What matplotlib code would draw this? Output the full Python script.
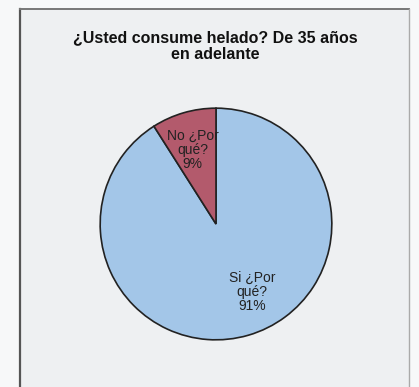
import matplotlib
matplotlib.use("Agg")
import matplotlib.pyplot as plt
from matplotlib.lines import Line2D
import numpy as np

categories = ["Si ¿Por\nqué?", "No ¿Por\nqué?"]
values = [91, 9]
colors = ["#a3c6e8", "#b35a6c"]
title = "¿Usted consume helado? De 35 años\nen adelante"

W, H = 419, 387
fig = plt.figure(figsize=(W / 100, H / 100), dpi=100)
fig.patch.set_facecolor("#f7f8f9")

# chart frame area
frame = plt.Rectangle((20 / W, 0), (409 - 20) / W, 1 - 10 / H, transform=fig.transFigure,
                      facecolor="#eef0f2", edgecolor="none", zorder=-5)
fig.patches.append(frame)
fig.lines.append(Line2D([20 / W, 20 / W], [0, 1 - 9 / H], transform=fig.transFigure,
                        color="#555555", lw=1.6, zorder=-4))
fig.lines.append(Line2D([20 / W, 409 / W], [1 - 9 / H, 1 - 9 / H], transform=fig.transFigure,
                        color="#777777", lw=1.4, zorder=-4))
fig.lines.append(Line2D([409 / W, 409 / W], [0, 1 - 9 / H], transform=fig.transFigure,
                        color="#aaaaaa", lw=1.0, zorder=-4))

fig.text(215 / W, 1 - 46 / H, title, ha="center", va="center", fontsize=11.5,
         fontweight="bold", family="Liberation Sans", linespacing=1.2, color="#111111")

cx, cy, r = 216, 224, 117
ax = fig.add_axes([(cx - r) / W, (H - cy - r) / H, 2 * r / W, 2 * r / H], zorder=2)
wedges, _ = ax.pie(values, colors=colors, startangle=90, counterclock=False,
                   radius=0.99, wedgeprops=dict(edgecolor="#222222", linewidth=1.2))
ax.set_xlim(-1, 1)
ax.set_ylim(-1, 1)
ax.axis("off")

pct = [f"{v}%" for v in values]
label_pos = [(0.31, -0.58), (-0.2, 0.63)]
for (x, y), lab, p in zip(label_pos, categories, pct):
    ax.text(x, y, f"{lab}\n{p}", ha="center", va="center", fontsize=10,
            family="Liberation Sans", linespacing=1.0, color="#222222")

fig.savefig("out.png", dpi=100, facecolor=fig.get_facecolor())
